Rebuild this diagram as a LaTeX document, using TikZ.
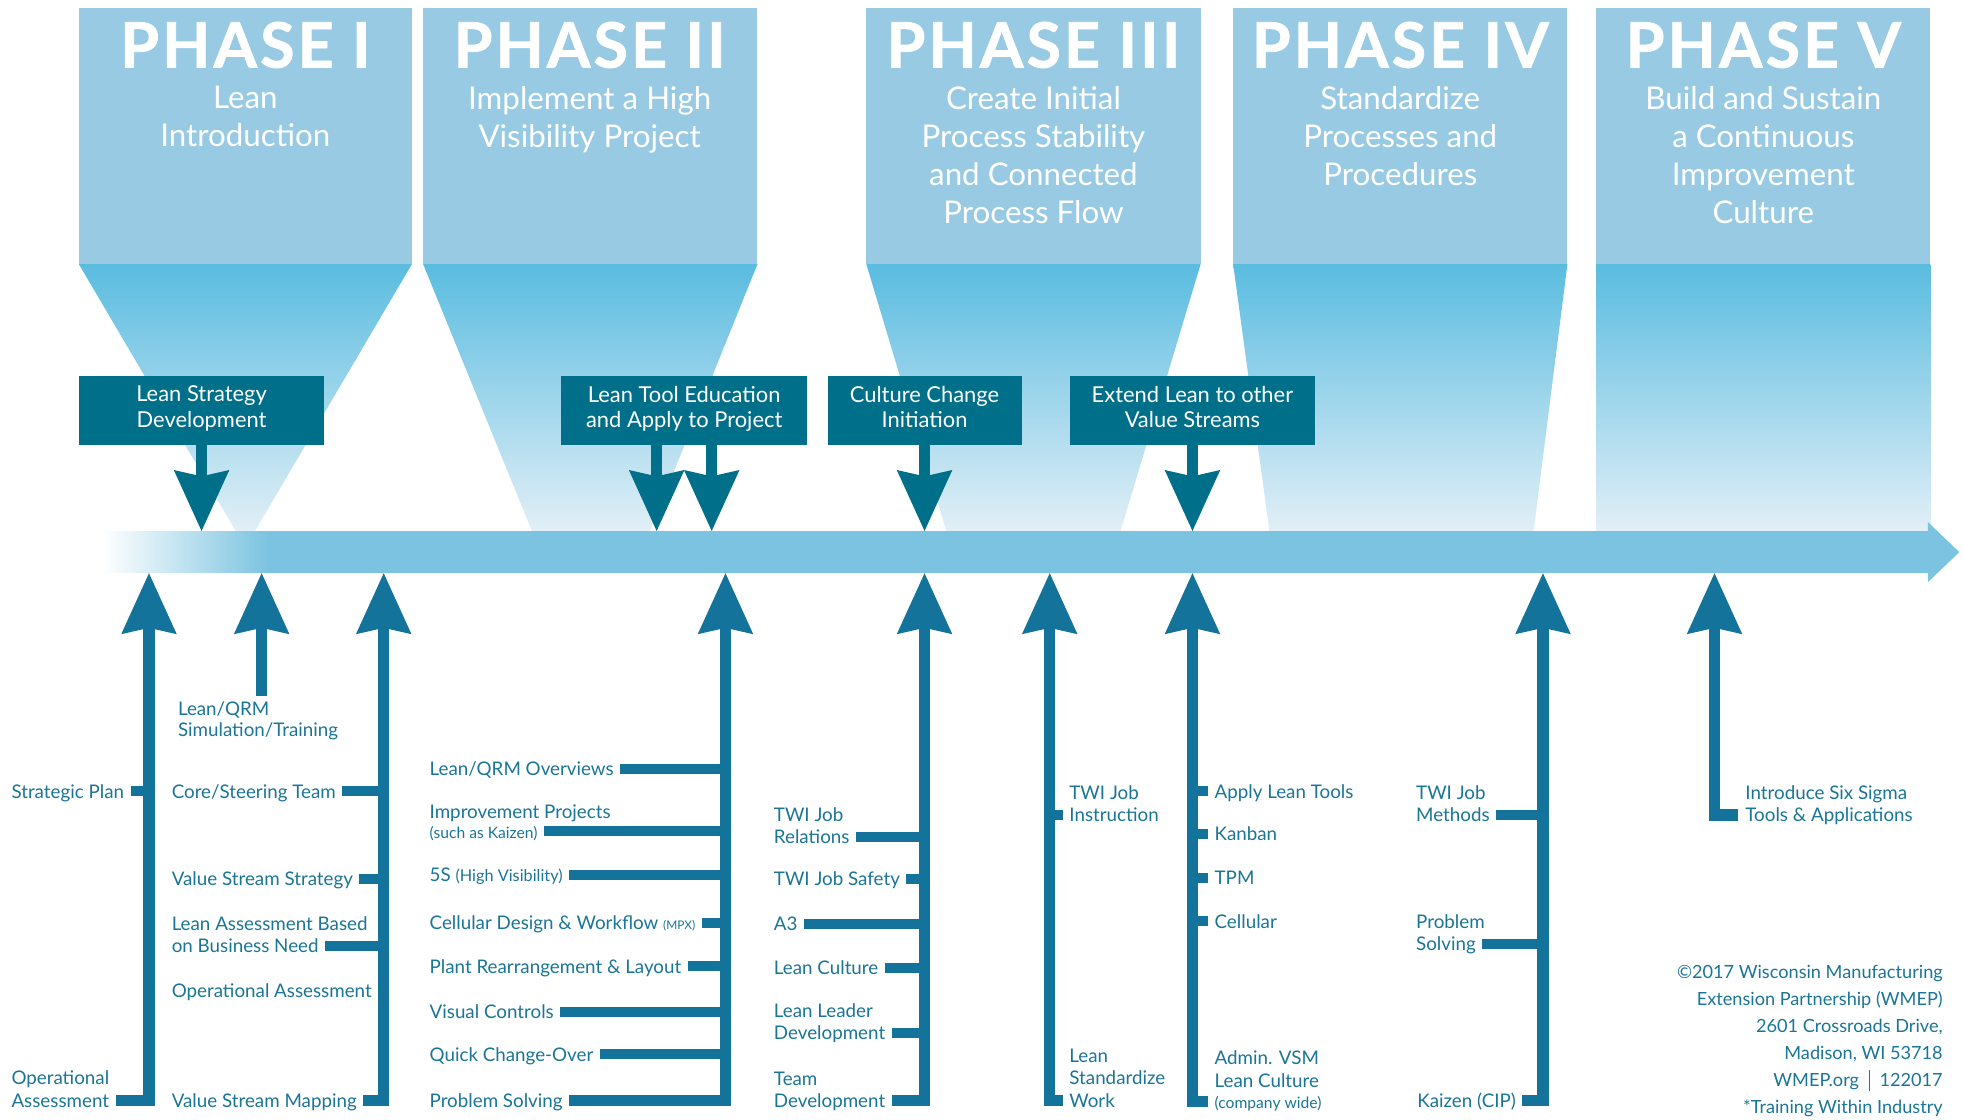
\documentclass[tikz,border=0pt]{standalone}
\usepackage{fontspec}
\setmainfont{Lato}
\usetikzlibrary{arrows.meta}

\definecolor{phtop}{HTML}{98CBE3}
\definecolor{funtop}{HTML}{5ABCE0}
\definecolor{funbot}{HTML}{E2EFF7}
\definecolor{barblue}{HTML}{7BC3E0}
\definecolor{boxteal}{HTML}{00708A}
\definecolor{arrteal}{HTML}{13739A}
\definecolor{txtteal}{HTML}{1A7596}

\begin{document}
\begin{tikzpicture}[x=1pt,y=-1pt,
	funnel/.style={top color=funtop,bottom color=funbot},
	phtitle/.style={anchor=base,text=white,
		font=\fontsize{50}{50}\selectfont\bfseries\addfontfeatures{FakeBold=1.2,LetterSpace=5}},
	phsub/.style={anchor=north,align=center,inner sep=0pt,text=white,
		font=\fontsize{25}{30.4}\selectfont,execute at begin node=\strut},
	dbox/.style={fill=boxteal,text=white,align=center,inner sep=0pt,
		minimum width=196pt,minimum height=55pt,font=\fontsize{17.5}{20.5}\selectfont,
		execute at begin node=\strut,execute at end node=\strut},
	dnarr/.style={boxteal,line width=9pt,-{Stealth[length=48pt,width=42pt,inset=4pt]}},
	uparr/.style={arrteal,line width=9pt,-{Stealth[length=48pt,width=42pt,inset=4pt]}},
	stub/.style={arrteal,line width=8pt},
	gap/.style={shorten <=5pt},
	lbl/.style={anchor=west,inner sep=0pt,text=txtteal,text height=14pt,text depth=3pt,
		font=\fontsize{15}{17.5}\selectfont},
	small/.style={font=\fontsize{12.5}{14}\selectfont}]
	\useasboundingbox (0,0) rectangle (1568,894);

	%phase boxes
	\fill[phtop] (63,6) rectangle (329,211);
	\fill[phtop] (338,6) rectangle (605,211);
	\fill[phtop] (692,6) rectangle (959,211);
	\fill[phtop] (985,6) rectangle (1252,211);
	\fill[phtop] (1275,6) rectangle (1542,211);
	%
	\shade[funnel] (63,211)--(329,211)--(203.5,424.5)--(188.5,424.5)--cycle;
	\shade[funnel] (338,211)--(605,211)--(519,424.5)--(425,424.5)--cycle;
	\shade[funnel] (692,211)--(959,211)--(895,424.5)--(756,424.5)--cycle;
	\shade[funnel] (985,211)--(1252,211)--(1225,424.5)--(1014,424.5)--cycle;
	\shade[funnel] (1275,211)--(1542,211)--(1542,424.5)--(1275,424.5)--cycle;

	%phase titles
	\node[phtitle] (p1) at (196,54)    {PHASE I};
	\node[phtitle] (p2) at (471,54)    {PHASE II};
	\node[phtitle] (p3) at (825.5,54)  {PHASE III};
	\node[phtitle] (p4) at (1118.5,54) {PHASE IV};
	\node[phtitle] (p5) at (1408.5,54) {PHASE V};
	%
	\node[phsub] (ps1) at (196,68.5)    {Lean\\Introduction};
	\node[phsub] (ps2) at (471,68.5)    {Implement a High\\Visibility Project};
	\node[phsub] (ps3) at (825.5,68.5)  {Create Initial\\Process Stability\\and Connected\\Process Flow};
	\node[phsub] (ps4) at (1118.5,68.5) {Standardize\\Processes and\\Procedures};
	\node[phsub] (ps5) at (1408.5,68.5) {Build and Sustain\\a Continuous\\Improvement\\Culture};

	%time line
	\coordinate (bartop) at (0,424.5);
	\coordinate (barbot) at (0,457.5);
	\shade[left color=white,right color=barblue] (82,424.5) rectangle (215,457.5);
	\fill[barblue] (214.5,424.5) rectangle (1541,457.5);
	\fill[barblue] (1540,417)--(1565,441)--(1540,465)--cycle;	%head

	%dark boxes
	\node[dbox] (lsd) at (161,328)   {Lean Strategy\\Development};
	\node[dbox] (lte) at (546.5,328) {Lean Tool Education\\and Apply to Project};
	\node[dbox,minimum width=155pt] (cci) at (738.5,328) {Culture Change\\Initiation};
	\node[dbox] (elv) at (952.5,328) {Extend Lean to other\\Value Streams};

	%down arrows
	\coordinate (t1)  at (161,424.5);
	\coordinate (t2a) at (524.5,424.5);
	\coordinate (t2b) at (568.5,424.5);
	\coordinate (t3)  at (738.5,424.5);
	\coordinate (t4)  at (952.5,424.5);
	\draw[dnarr] (lsd.south -| t1)--(t1);
	\draw[dnarr] (lte.south -| t2a)--(t2a);
	\draw[dnarr] (lte.south -| t2b)--(t2b);
	\draw[dnarr] (cci.south -| t3)--(t3);
	\draw[dnarr] (elv.south -| t4)--(t4);

	%up arrow tips
	\coordinate (a1) at (119,457.5);
	\coordinate (a2) at (209,457.5);
	\coordinate (a3) at (306.5,457.5);
	\coordinate (a4) at (579.5,457.5);
	\coordinate (a5) at (738.5,457.5);
	\coordinate (a6) at (838.5,457.5);
	\coordinate (a7) at (952.5,457.5);
	\coordinate (a8) at (1232.5,457.5);
	\coordinate (a9) at (1369.5,457.5);
	\coordinate (a2b) at (209,556);

	%labels
	\node[lbl] (sp)   at (9,632)   {Strategic Plan};
	\node[lbl] (oa1)  at (9,861)   {Operational};
	\node[lbl] (oa2)  at (9,879)   {Assessment};
	%
	\node[lbl] (lq1)  at (142,566) {Lean/QRM};
	\node[lbl] (lq2)  at (142,583) {Simulation/Training};
	%
	\node[lbl] (cst)  at (137,632)   {Core/Steering Team};
	\node[lbl] (vss)  at (137,702)   {Value Stream Strategy};
	\node[lbl] (lab1) at (137,738)   {Lean Assessment Based};
	\node[lbl] (lab2) at (137,755.5) {on Business Need};
	\node[lbl] (opa)  at (137,791)   {Operational Assessment};
	\node[lbl] (vsm)  at (137,879)   {Value Stream Mapping};
	%
	\node[lbl] (lqo)  at (343,614) {Lean/QRM Overviews};
	\node[lbl] (imp1) at (343,648) {Improvement Projects};
	\node[lbl,small] (imp2) at (343,664) {(such as Kaizen)};
	\node[lbl] (fss)  at (343,699) {5S {\fontsize{13}{14}\selectfont(High Visibility)}};
	\node[lbl] (cdw)  at (343,737) {Cellular Design \& Workflow {\fontsize{9.5}{11}\selectfont(MPX)}};
	\node[lbl] (pra)  at (343,772) {Plant Rearrangement \& Layout};
	\node[lbl] (vic)  at (343,808) {Visual Controls};
	\node[lbl] (qco)  at (343,842) {Quick Change-Over};
	\node[lbl] (pso)  at (343,879) {Problem Solving};
	%
	\node[lbl] (tjr1) at (618,651)   {TWI Job};
	\node[lbl] (tjr2) at (618,668.5) {Relations};
	\node[lbl] (tjs)  at (618,702)   {TWI Job Safety};
	\node[lbl] (athr) at (618,738)   {A3};
	\node[lbl] (lcu)  at (618,773)   {Lean Culture};
	\node[lbl] (lld1) at (618,807.5) {Lean Leader};
	\node[lbl] (lld2) at (618,825)   {Development};
	\node[lbl] (ted1) at (618,861.5) {Team};
	\node[lbl] (ted2) at (618,879)   {Development};
	%
	\node[lbl] (tji1) at (854,633.5) {TWI Job};
	\node[lbl] (tji2) at (854,651)   {Instruction};
	\node[lbl] (lsw1) at (854,843)   {Lean};
	\node[lbl] (lsw2) at (854,861)   {Standardize};
	\node[lbl] (lsw3) at (854,879)   {Work};
	%
	\node[lbl] (alt)  at (970,632) {Apply Lean Tools};
	\node[lbl] (kan)  at (970,666) {Kanban};
	\node[lbl] (tpm)  at (970,701) {TPM};
	\node[lbl] (cel)  at (970,736) {Cellular};
	\node[lbl] (avs1) at (970,845) {Admin. VSM};
	\node[lbl] (avs2) at (970,863) {Lean Culture};
	\node[lbl,small] (avs3) at (970,880) {(company wide)};
	%
	\node[lbl] (tjm1) at (1131,633.5) {TWI Job};
	\node[lbl] (tjm2) at (1131,651)   {Methods};
	\node[lbl] (prs1) at (1131,736.5) {Problem};
	\node[lbl] (prs2) at (1131,754)   {Solving};
	\node[lbl] (kai)  at (1132,879)   {Kaizen (CIP)};
	%
	\node[lbl] (six1) at (1394,633.5) {Introduce Six Sigma};
	\node[lbl] (six2) at (1394,651)   {Tools \& Applications};

	%up arrows
	\draw[uparr,gap] (oa2.east)--(oa2.east -| a1)--(a1);
	\draw[uparr] (a2b)--(a2);
	\draw[uparr,gap] (vsm.east)--(vsm.east -| a3)--(a3);
	\draw[uparr,gap] (pso.east)--(pso.east -| a4)--(a4);
	\draw[uparr,gap] (ted2.east)--(ted2.east -| a5)--(a5);
	\draw[uparr,gap] (lsw3.west)--(lsw3.west -| a6)--(a6);
	\draw[uparr,gap] (avs3.west)--(avs3.west -| a7)--(a7);
	\draw[uparr,gap] (kai.east)--(kai.east -| a8)--(a8);
	\draw[uparr,shorten <=6pt] (six2.west)--(six2.west -| a9)--(a9);

	%branches
	\draw[stub,gap] (sp.east)--(sp.east -| a1);
	%
	\draw[stub,gap] (cst.east)--(cst.east -| a3);
	\draw[stub,gap] (vss.east)--(vss.east -| a3);
	\draw[stub,gap] (lab2.east)--(lab2.east -| a3);
	\draw[stub,gap] (opa.east)--(opa.east -| a3);
	%
	\draw[stub,gap] (lqo.east)--(lqo.east -| a4);
	\draw[stub,gap] (imp2.east)--(imp2.east -| a4);
	\draw[stub,gap] (fss.east)--(fss.east -| a4);
	\draw[stub,gap] (cdw.east)--(cdw.east -| a4);
	\draw[stub,gap] (pra.east)--(pra.east -| a4);
	\draw[stub,gap] (vic.east)--(vic.east -| a4);
	\draw[stub,gap] (qco.east)--(qco.east -| a4);
	%
	\draw[stub,gap] (tjr2.east)--(tjr2.east -| a5);
	\draw[stub,gap] (tjs.east)--(tjs.east -| a5);
	\draw[stub,gap] (athr.east)--(athr.east -| a5);
	\draw[stub,gap] (lcu.east)--(lcu.east -| a5);
	\draw[stub,gap] (lld2.east)--(lld2.east -| a5);
	%
	\draw[stub,gap] (tji2.west)--(tji2.west -| a6);
	%
	\draw[stub,gap] (alt.west)--(alt.west -| a7);
	\draw[stub,gap] (kan.west)--(kan.west -| a7);
	\draw[stub,gap] (tpm.west)--(tpm.west -| a7);
	\draw[stub,gap] (cel.west)--(cel.west -| a7);
	%
	\draw[stub,gap] (tjm2.east)--(tjm2.east -| a8);
	\draw[stub,gap] (prs2.east)--(prs2.east -| a8);

	%copyright
	\node[anchor=north east,align=right,inner sep=0pt,text=txtteal,
		font=\fontsize{14.5}{21.6}\selectfont,execute at begin node=\strut] (cpy) at (1552,770.5)
		{\textcopyright2017 Wisconsin Manufacturing\\Extension Partnership (WMEP)\\2601 Crossroads Drive,\\Madison, WI 53718\\WMEP.org \;\rule[-4pt]{0.9pt}{17pt}\; 122017\\*Training Within Industry};
\end{tikzpicture}
\end{document}
